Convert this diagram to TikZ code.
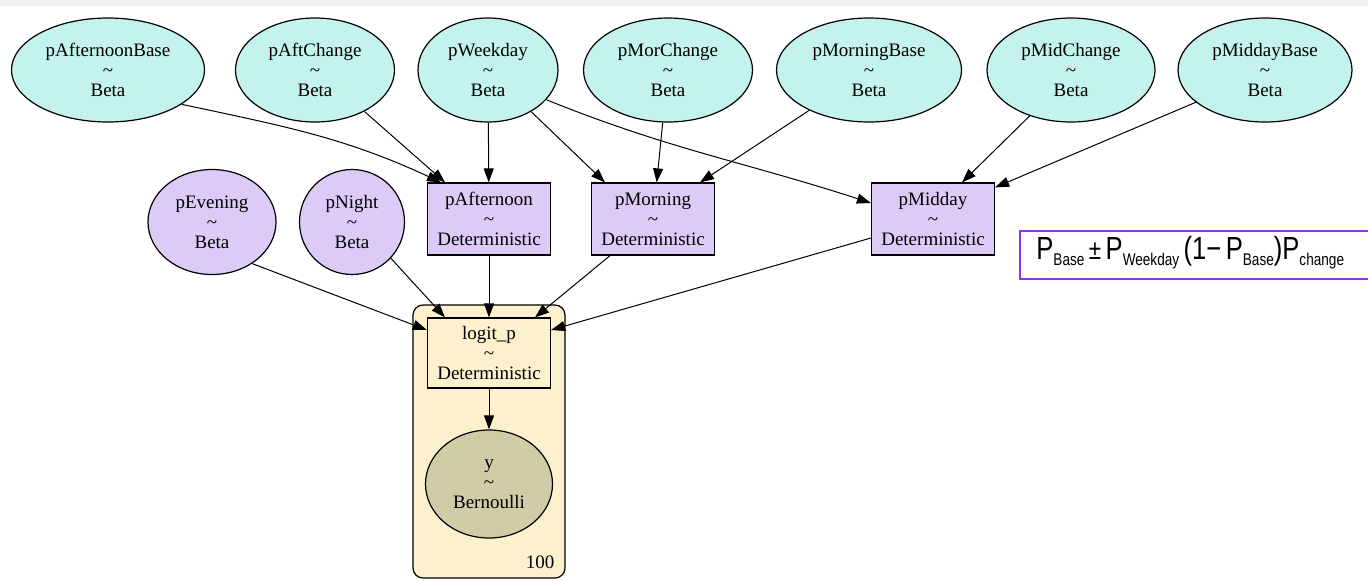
\documentclass[tikz,border=0pt]{standalone}
\usepackage{fontspec}
\setmainfont{Liberation Serif}
\newfontfamily\handfont{Liberation Sans}
\usepackage{tikz}
\usetikzlibrary{positioning, arrows.meta}
\usetikzlibrary{shapes}

\definecolor{betacyan}{HTML}{C4F2EC}
\definecolor{detpurple}{HTML}{DDCBF7}
\definecolor{platecream}{HTML}{FDF0CD}
\definecolor{obsolive}{HTML}{CFCCA6}
\definecolor{notepurple}{HTML}{9A2BF0}

% big P with a small lowered index, as in the handwritten note
\newcommand{\hp}[1]{{\fontsize{16}{17}\selectfont P}\raisebox{-3pt}{\fontsize{8.5}{9}\selectfont #1}}

\begin{document}
\begin{tikzpicture}[x=0.5pt, y=-0.5pt,
    font=\fontsize{9.5}{10}\selectfont,
    rv/.style={ellipse, draw=black, line width=0.6pt, inner sep=0pt, align=center, minimum height=52pt},
    det/.style={rectangle, draw=black, line width=0.6pt, fill=detpurple, inner sep=0pt, align=center, minimum width=61.5pt, minimum height=36pt},
    edge/.style={line width=0.5pt, -{Triangle[length=7pt,width=5pt]}}]
    \useasboundingbox (0,0) rectangle (1368,580);
    \clip (0,0) rectangle (1368,580);
    \fill[black!6] (0,0) rectangle (1368,6);

    % plate
    \node[draw=black, line width=0.6pt, fill=platecream, rounded corners=5pt, minimum width=76pt, minimum height=136.5pt, inner sep=0pt] (plate) at (489,441.5) {};
    \node (platesize) at (540,562) {100};

    % top row
    \node[rv, fill=betacyan, minimum width=96.5pt] (pAfternoonBase) at (108,70) {pAfternoonBase\\\textasciitilde\\Beta};
    \node[rv, fill=betacyan, minimum width=79.5pt] (pAftChange) at (315,70) {pAftChange\\\textasciitilde\\Beta};
    \node[rv, fill=betacyan, minimum width=70pt] (pWeekday) at (488,70) {pWeekday\\\textasciitilde\\Beta};
    \node[rv, fill=betacyan, minimum width=84.5pt] (pMorChange) at (668,70) {pMorChange\\\textasciitilde\\Beta};
    \node[rv, fill=betacyan, minimum width=92.5pt] (pMorningBase) at (869,70) {pMorningBase\\\textasciitilde\\Beta};
    \node[rv, fill=betacyan, minimum width=84pt] (pMidChange) at (1071,70) {pMidChange\\\textasciitilde\\Beta};
    \node[rv, fill=betacyan, minimum width=87pt] (pMiddayBase) at (1265,70) {pMiddayBase\\\textasciitilde\\Beta};

    % middle row
    \node[rv, fill=detpurple, minimum width=64pt, minimum height=52.5pt] (pEvening) at (212,222) {pEvening\\\textasciitilde\\Beta};
    \node[rv, fill=detpurple, minimum width=52.5pt, minimum height=52.5pt] (pNight) at (352,222) {pNight\\\textasciitilde\\Beta};
    \node[det] (pAfternoon) at (489,219) {pAfternoon\\\textasciitilde\\Deterministic};
    \node[det] (pMorning) at (653,219) {pMorning\\\textasciitilde\\Deterministic};
    \node[det] (pMidday) at (933,219) {pMidday\\\textasciitilde\\Deterministic};

    % inside the plate
    \node[det, fill=platecream, minimum height=35pt] (logit_p) at (489,353) {logit\_p\\\textasciitilde\\Deterministic};
    \node[rv, fill=obsolive, minimum width=63.5pt, minimum height=54pt] (y) at (489,484) {y\\\textasciitilde\\Bernoulli};

    % note
    \node[draw=notepurple, line width=1pt, minimum width=190pt, minimum height=24pt, anchor=west, inner sep=0pt] (note) at (1019,255) {};
    \node[anchor=west, inner sep=0pt, font=\handfont] (formula) at (1036,253)
        {\scalebox{0.8}[1]{\hp{Base} {\fontsize{14}{15}\selectfont ±} \hp{Weekday} {\fontsize{16}{17}\selectfont (1−} \hp{Base}{\fontsize{16}{17}\selectfont )}\hp{change}}};

    \draw[edge] (pAfternoonBase.-25) to[out=-12, in=155] ([xshift=-24pt]pAfternoon.north);
    \draw[edge] (pAftChange.-40) -- ([xshift=-22pt]pAfternoon.north);
    \draw[edge] (pWeekday) -- (pAfternoon);
    \draw[edge] (pWeekday.-44) -- ([xshift=-24pt]pMorning.north);
    \draw[edge] (pMorChange) -- (pMorning);
    \draw[edge] (pMorningBase.-146) -- ([xshift=23.5pt]pMorning.north);
    \draw[edge] (pWeekday.-27) to[out=-22, in=162] ([yshift=8pt]pMidday.west);
    \draw[edge] (pMidChange.-132) -- ([xshift=14.5pt]pMidday.north);
    \draw[edge] (pMiddayBase.-155) -- ([yshift=-2.5pt]pMidday.north east);
    \draw[edge] (pEvening.-46) -- ([yshift=11.5pt]logit_p.west);
    \draw[edge] (pNight.-43) -- ([xshift=-22pt]logit_p.north);
    \draw[edge] (pAfternoon) -- (logit_p);
    \draw[edge] ([xshift=-21.5pt]pMorning.south) -- ([xshift=23pt]logit_p.north);
    \draw[edge] ([yshift=-9.5pt]pMidday.west) -- ([yshift=11.5pt]logit_p.east);
    \draw[edge] (logit_p) -- (y);
\end{tikzpicture}
\end{document}
